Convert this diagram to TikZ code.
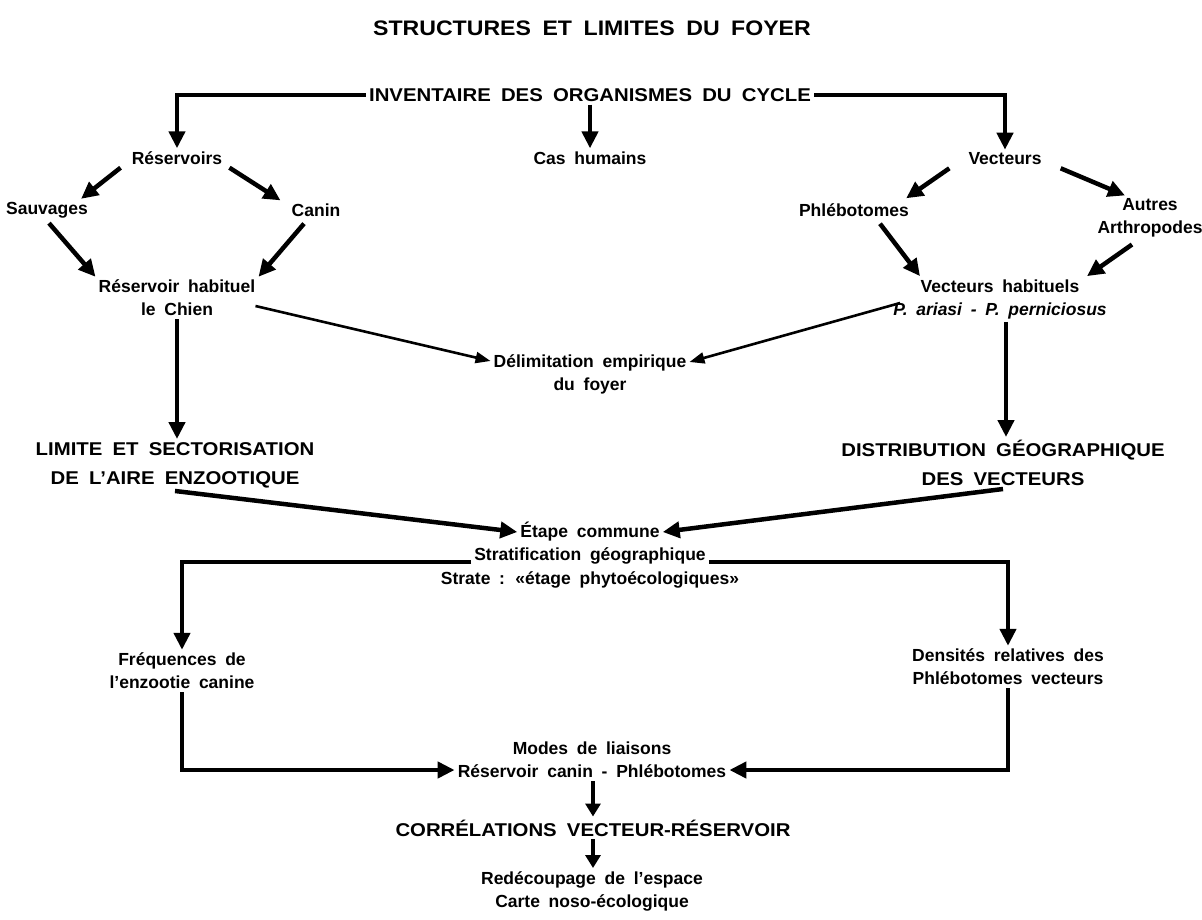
\documentclass[tikz,border=0pt]{standalone}
\usepackage{fontspec}
\setmainfont{Liberation Sans}[WordSpace=1.8]
\newfontfamily\capsfont{Liberation Sans}[WordSpace=1.8,FakeStretch=1.1]
\usetikzlibrary{arrows.meta,calc}
\begin{document}
\begin{tikzpicture}[x=1pt,y=-1pt,
  txt/.style={font=\fontsize{17.5}{23}\selectfont\bfseries, align=center, inner sep=3pt},
  caps/.style={font=\capsfont\fontsize{18.5}{29}\selectfont\bfseries, align=center, inner sep=3pt},
  ttl/.style={font=\capsfont\fontsize{21}{25}\selectfont\bfseries, inner sep=3pt},
  arr/.style={line width=4.5pt, -{Triangle[length=17pt,width=16pt]}},
  shortarr/.style={line width=4.5pt, -{Triangle[length=13pt,width=15pt]}},
  thinarr/.style={line width=2.6pt, -{Triangle[length=15pt,width=11pt]}}]
\useasboundingbox (0,0) rectangle (1202,920);

% labels
\node[ttl]  (title)  at (592,28)  {STRUCTURES ET LIMITES DU FOYER};
\node[caps] (inv)    at (590,95)  {INVENTAIRE DES ORGANISMES DU CYCLE};
\node[txt]  (res)    at (177,158) {Réservoirs};
\node[txt]  (cas)    at (590,158) {Cas humains};
\node[txt]  (vec)    at (1005,159) {Vecteurs};
\node[txt]  (sauv)   at (47,210)  {Sauvages};
\node[txt]  (canin)  at (316,210) {Canin};
\node[txt]  (phle)   at (854,210) {Phlébotomes};
\node[txt]  (autres) at (1150,218) {Autres\\Arthropodes};
\node[txt]  (rhab)   at (177,298) {Réservoir habituel\\le Chien};
\node[txt]  (vhab)   at (1000,299) {Vecteurs habituels\\{\itshape P. ariasi - P. perniciosus}};
\node[txt]  (delim)  at (590,374) {Délimitation empirique\\du foyer};
\node[caps] (limite) at (175,465) {LIMITE ET SECTORISATION\\DE L’AIRE ENZOOTIQUE};
\node[caps] (distr)  at (1003,463) {DISTRIBUTION GÉOGRAPHIQUE\\DES VECTEURS};
\node[txt]  (etape)  at (590,532) {Étape commune};
\node[txt]  (strat)  at (590,556) {Stratification géographique};
\node[txt]  (strate) at (590,580) {Strate : «étage phytoécologiques»};
\node[txt]  (freq)   at (182,671) {Fréquences de\\l’enzootie canine};
\node[txt]  (dens)   at (1008,667) {Densités relatives des\\Phlébotomes vecteurs};
\node[txt]  (modes)  at (592,760) {Modes de liaisons\\Réservoir canin - Phlébotomes};
\node[caps] (corr)   at (593,828) {CORRÉLATIONS VECTEUR-RÉSERVOIR};
\node[txt]  (redec)  at (592,891) {Redécoupage de l’espace\\Carte noso-écologique};

% inventory of the cycle
\draw[arr] (inv.west) -| (res.north);
\draw[arr] (inv.south) -- (cas.north);
\draw[arr] (inv.east) -| (vec.north);

% reservoirs branch
\draw[arr] ($(res.south west)+(-8,0)$) -- ($(sauv.north east)+(-10,0)$);
\draw[arr] ($(res.south east)+(4,0)$) -- ($(canin.north west)+(-8,0)$);
\draw[arr] ($(sauv.south)+(2,2)$) -- (rhab.north west);
\draw[arr] ($(canin.south)+(-12,4)$) -- (rhab.north east);

% vectors branch
\draw[arr] ($(vec.south west)+(-16,0)$) -- ($(phle.north east)+(-6,-2)$);
\draw[arr] ($(vec.south east)+(16,0)$) -- ($(autres.north)+(-25,0)$);
\draw[arr] ($(phle.south)+(26,4)$) -- ($(vhab.north)+(-80,0)$);
\draw[arr] ($(autres.south)+(-18,4)$) -- ($(vhab.north)+(87,0)$);

% empirical delimitation
\draw[thinarr] ($(rhab.east)+(-3,8)$) -- ($(delim.west)+(0,-13)$);
\draw[thinarr] ($(vhab.west)+(10,4)$) -- ($(delim.east)+(0,-12)$);

% toward the enzootic area and vector distribution
\draw[arr] (rhab.south) -- (rhab.south |- limite.north);
\draw[arr] ($(vhab.south)+(6,0)$) -- ($(vhab.south |- distr.north)+(6,0)$);
\draw[arr] (limite.south) -- (etape.west);
\draw[arr] (distr.south) -- (etape.east);

% stratification
\draw[arr] ($(strat.west)+(0,6)$) -| (freq.north);
\draw[arr] ($(strat.east)+(0,6)$) -| (dens.north);
\draw[arr] (freq.south) |- ($(modes.west)+(0,10)$);
\draw[arr] (dens.south) |- ($(modes.east)+(0,10)$);

% correlations
\draw[shortarr] (corr.north |- modes.south) -- (corr.north);
\draw[shortarr] (corr.south) -- (corr.south |- redec.north);
\end{tikzpicture}
\end{document}
